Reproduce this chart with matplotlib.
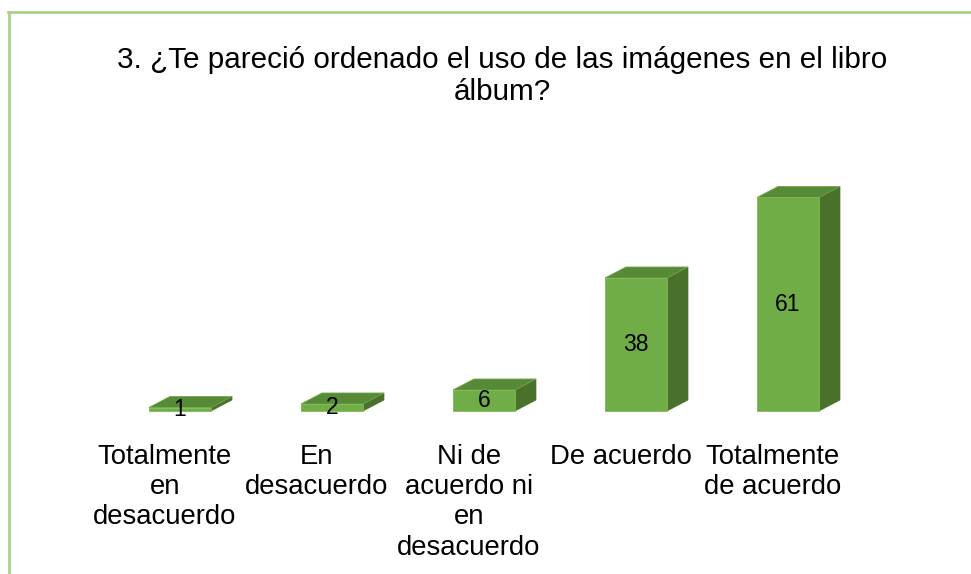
import matplotlib
matplotlib.use("Agg")
import matplotlib.pyplot as plt
from matplotlib.patches import Polygon
from matplotlib.lines import Line2D

categories = ["Totalmente\nen\ndesacuerdo", "En\ndesacuerdo", "Ni de\nacuerdo ni\nen\ndesacuerdo",
              "De acuerdo", "Totalmente\nde acuerdo"]
values = [1, 2, 6, 38, 61]
title = "3. ¿Te pareció ordenado el uso de las imágenes en el libro\nálbum?"

W, H = 971, 574
plt.rcParams['font.family'] = ['Liberation Sans', 'DejaVu Sans']
fig = plt.figure(figsize=(W / 100, H / 100), dpi=100)

# axes pixel layout
x0_px, x1_px = 104, 864
base_px = 411
px_per_unit = 3.5
ymax = 75
top_px = base_px - ymax * px_per_unit
ax = fig.add_axes([x0_px / W, (H - base_px) / H, (x1_px - x0_px) / W, (base_px - top_px) / H])
ax.set_xlim(-0.5, len(values) - 0.5)
ax.set_ylim(0, ymax)
ax.axis("off")

cat_px = (x1_px - x0_px) / len(values)
bw = 62 / cat_px
ddx = 21 / cat_px
ddy = 11 / px_per_unit

front = "#70AD47"
topc = "#568A37"
side = "#4A712C"
edge = "#7DB956"

for i, v in enumerate(values):
    l, r = i - bw / 2, i + bw / 2
    ax.add_patch(Polygon([(r, 0), (r + ddx, ddy), (r + ddx, v + ddy), (r, v)], closed=True,
                         facecolor=side, edgecolor=side, lw=0.5, clip_on=False))
    ax.add_patch(Polygon([(l, v), (r, v), (r + ddx, v + ddy), (l + ddx, v + ddy)], closed=True,
                         facecolor=topc, edgecolor="#6FA34C", lw=0.6, clip_on=False))
    ax.add_patch(Polygon([(l, 0), (r, 0), (r, v), (l, v)], closed=True,
                         facecolor=front, edgecolor=edge, lw=0.6, clip_on=False))
    ax.text(i, v / 2, str(v), ha="center", va="center", fontsize=16.5, color="black", zorder=5)
    ax.text(i - 0.1, -9.3, categories[i], ha="center", va="top", fontsize=19.8,
            linespacing=1.22, color="black")

fig.text(502 / W, 1 - 46 / H, title, ha="center", va="top", fontsize=21.3, linespacing=1.16)

# frame lines
fig.add_artist(Line2D([8.5 / W, 8.5 / W], [0, 1 - 12 / H], color="#A9D18E", lw=2))
fig.add_artist(Line2D([7.5 / W, 1], [1 - 12 / H, 1 - 12 / H], color="#A9D18E", lw=2))

fig.savefig("out.png", dpi=100)
